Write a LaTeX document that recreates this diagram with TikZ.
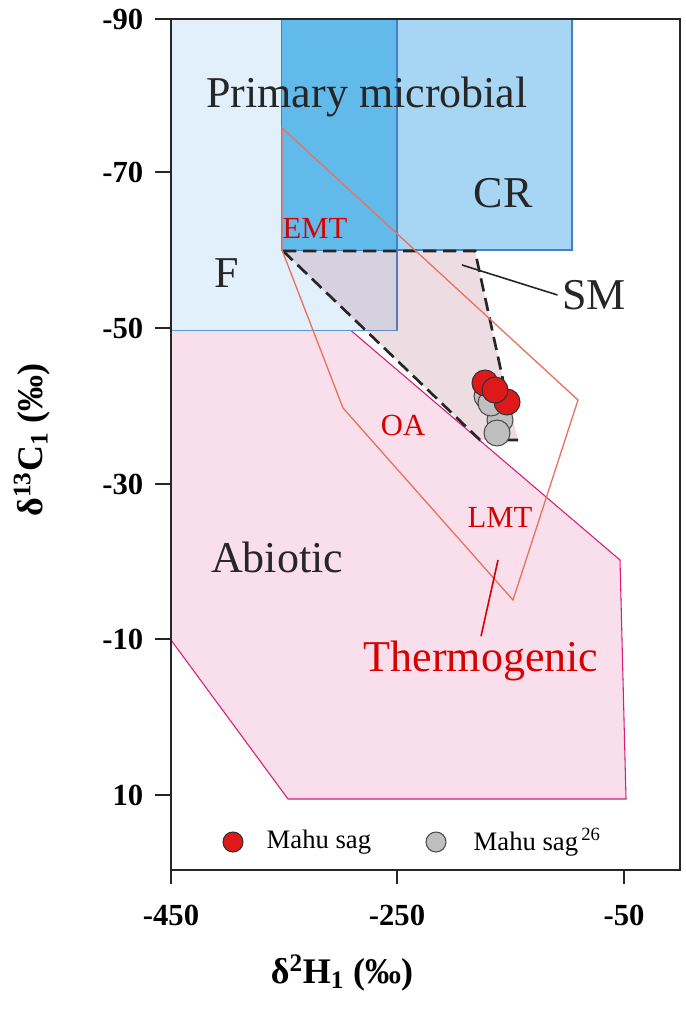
\documentclass[tikz,border=0pt]{standalone}
\usepackage{fontspec}
\setmainfont{Liberation Serif}
\begin{document}
\begin{tikzpicture}[x=0.75pt,y=-0.75pt,
 lbl/.style={font=\fontsize{33}{33}\selectfont,text=black!85},
 rlbl/.style={font=\fontsize{23}{23}\selectfont,text=red!85!black},
 tick/.style={font=\bfseries\fontsize{23}{23}\selectfont},
 red dot/.style={circle,draw=black!80,fill=red!85!black!90,minimum size=19.5pt,inner sep=0,line width=0.8pt},
 gray dot/.style={circle,draw=black!70,fill=black!25,minimum size=19.5pt,inner sep=0,line width=0.8pt}]
\definecolor{fblue}{HTML}{E2F0FB}
\definecolor{crblue}{HTML}{A6D6F4}
\definecolor{pmblue}{HTML}{62BAEA}
\definecolor{apink}{HTML}{F9DEEC}
\definecolor{thermo}{HTML}{E8735E}
\useasboundingbox (0,0) rectangle (685,1009);
% regions
\fill[apink,draw=magenta!60!purple,line width=0.8pt] (171,328) -- (348,328) -- (620,560) -- (626,799) -- (288,799) -- (171,640) -- cycle;
\fill[fblue,draw=cyan!60!blue!70,line width=0.6pt] (171,19) rectangle (397,330);
\fill[crblue,draw=cyan!50!blue!80,line width=0.8pt] (282,19) rectangle (572,250);
\fill[pmblue] (282,19) rectangle (397,250);
\draw[cyan!50!blue!80,line width=0.8pt] (397,19) -- (397,330);
\fill[black!40!purple!60,opacity=0.22] (283,251) -- (475,251) -- (503,380) -- (518,440) -- (480,440) -- cycle;
\draw[black!85,line width=2pt,dash pattern=on 10pt off 5pt] (283,251) -- (475,251) -- (503,380);
\draw[black!85,line width=2pt,dash pattern=on 10pt off 5pt] (283,251) -- (480,440) -- (518,440);
\draw[thermo,line width=1pt] (282,128) -- (578,400) -- (513,600) -- (343,408) -- (282,250) -- cycle;
% points
\node[gray dot] (g1) at (487,396) {};
\node[gray dot] (g2) at (500,420) {};
\node[gray dot] (g3) at (497,433) {};
\node[gray dot] (g4) at (491,403) {};
\node[red dot] (r1) at (485,383) {};
\node[red dot] (r3) at (507,402) {};
\node[red dot] (r2) at (495,390) {};
% frame
\draw[black!85,line width=2.2pt] (171,19) rectangle (680,870);
\foreach \y/\t in {19/-90,172/-70,328/-50,484/-30,639/-10,795/10}{
 \draw[black!85,line width=2pt] (155,\y) -- (171,\y);
 \node[tick,anchor=east] at (148,\y) {\t};}
\foreach \x/\t in {171/-450,397/-250,624/-50}{
 \draw[black!85,line width=2pt] (\x,870) -- (\x,884);
 \node[tick] at (\x,915) {\t};}
\node[font=\bfseries\fontsize{27}{27}\selectfont] (xt) at (342,973) {δ\textsuperscript{2}H\textsubscript{1} (‰)};
\node[font=\bfseries\fontsize{27}{27}\selectfont,rotate=90] (yt) at (32,440) {δ\textsuperscript{13}C\textsubscript{1} (‰)};
% labels
\node[lbl] (pm) at (367,97) {Primary microbial};
\node[lbl] (cr) at (503,193) {CR};
\node[lbl] (f) at (227,273) {F};
\node[lbl] (ab) at (277,557) {Abiotic};
\node[lbl] (sm) at (594,295) {SM};
\coordinate (smp) at (462,265);
\draw[black!85,line width=1.2pt] (smp) -- (sm.west);
\node[rlbl] (emt) at (315,228) {EMT};
\node[rlbl] (oa) at (403,425) {OA};
\node[rlbl] (lmt) at (500,517) {LMT};
\node[font=\fontsize{33}{33}\selectfont,text=red!85!black] (th) at (481,661) {Thermogenic};
\coordinate (lp) at (498,560);
\draw[red!85!black,line width=1.2pt] (lp) -- (th.north);
% legend
\node[red dot,minimum size=15pt] (l1) at (233,842) {};
\node[anchor=west,font=\fontsize{20}{20}\selectfont] (l1t) at (262,842) {Mahu sag};
\node[gray dot,minimum size=15pt] (l2) at (436,842) {};
\node[anchor=west,font=\fontsize{20}{20}\selectfont] (l2t) at (469,842) {Mahu sag\textsuperscript{\,26}};
\end{tikzpicture}
\end{document}
